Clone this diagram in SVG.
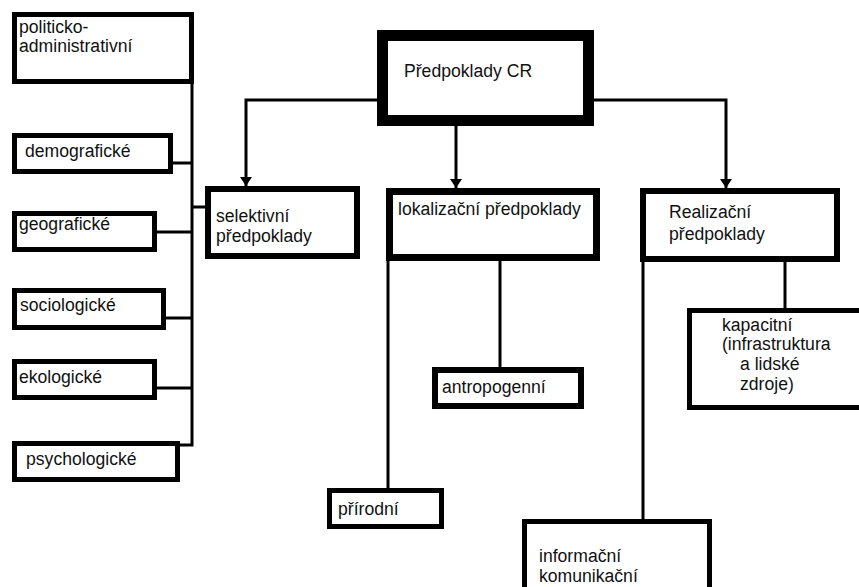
<svg xmlns="http://www.w3.org/2000/svg" width="859" height="587" viewBox="0 0 859 587">
<style>
.box{fill:#fff;stroke:#000}
.t{font-family:"Liberation Sans",Arial,sans-serif;font-size:17.6px;fill:#111}
.c{fill:none;stroke:#000;stroke-width:3}
</style>
<defs>
<marker id="arr" markerUnits="userSpaceOnUse" markerWidth="9" markerHeight="12" refX="9" refY="6" orient="auto">
<path d="M0,0 L9,6 L0,12 z" fill="#000"/>
</marker>
</defs>
<rect width="859" height="587" fill="#fff"/>
<g id="connectors">
<path class="c" d="M192,84 V445 H180"/>
<path class="c" d="M173,163 H192"/>
<path class="c" d="M157,232 H192"/>
<path class="c" d="M166,318 H192"/>
<path class="c" d="M157,388 H192"/>
<path class="c" d="M192,207 H205"/>
<path class="c" d="M377,100 H246 V186" marker-end="url(#arr)"/>
<path class="c" d="M456,126 V188" marker-end="url(#arr)"/>
<path class="c" d="M594,100 H726 V188" marker-end="url(#arr)"/>
<path class="c" d="M388,261 V488"/>
<path class="c" d="M500,261 V367"/>
<path class="c" d="M785,262 V308"/>
<path class="c" d="M643,262 V519"/>
</g>
<g id="politicko">
<rect class="box" x="14.5" y="14.5" width="177" height="67" stroke-width="5"/>
<text class="t" x="19" y="33">politicko-</text>
<text class="t" x="19" y="52">administrativní</text>
</g>
<g id="demograficke">
<rect class="box" x="14.5" y="135.5" width="156" height="36" stroke-width="5"/>
<text class="t" x="25" y="157">demografické</text>
</g>
<g id="geograficke">
<rect class="box" x="14.5" y="213.5" width="140" height="36" stroke-width="5"/>
<text class="t" x="19" y="230">geografické</text>
</g>
<g id="sociologicke">
<rect class="box" x="14.5" y="290.5" width="149" height="37" stroke-width="5"/>
<text class="t" x="20" y="311">sociologické</text>
</g>
<g id="ekologicke">
<rect class="box" x="14.5" y="361.5" width="140" height="36" stroke-width="5"/>
<text class="t" x="19" y="383">ekologické</text>
</g>
<g id="psychologicke">
<rect class="box" x="14.5" y="443.5" width="163" height="36" stroke-width="5"/>
<text class="t" x="26" y="465">psychologické</text>
</g>
<g id="selektivni">
<rect class="box" x="208" y="189" width="149" height="67" stroke-width="6"/>
<text class="t" x="216" y="222">selektivní</text>
<text class="t" x="216" y="242">předpoklady</text>
</g>
<g id="predpoklady-cr">
<rect class="box" x="382.5" y="35.5" width="206" height="85" stroke-width="11"/>
<text class="t" x="404" y="77">Předpoklady CR</text>
</g>
<g id="lokalizacni">
<rect class="box" x="389.5" y="191.5" width="207" height="66" stroke-width="7"/>
<text class="t" x="398" y="215">lokalizační předpoklady</text>
</g>
<g id="realizacni">
<rect class="box" x="643" y="191" width="194" height="68" stroke-width="6"/>
<text class="t" x="669" y="218">Realizační</text>
<text class="t" x="669" y="240">předpoklady</text>
</g>
<g id="kapacitni">
<rect class="box" x="689.5" y="310.5" width="180" height="97" stroke-width="5"/>
<text class="t" x="722" y="331">kapacitní</text>
<text class="t" x="722" y="350">(infrastruktura</text>
<text class="t" x="740" y="370">a lidské</text>
<text class="t" x="740" y="390">zdroje)</text>
</g>
<g id="antropogenni">
<rect class="box" x="435" y="370" width="146" height="36" stroke-width="6"/>
<text class="t" x="442" y="393">antropogenní</text>
</g>
<g id="prirodni">
<rect class="box" x="329.5" y="490.5" width="112" height="36" stroke-width="5"/>
<text class="t" x="338" y="515">přírodní</text>
</g>
<g id="informacni">
<rect class="box" x="524.5" y="521.5" width="185" height="100" stroke-width="5"/>
<text class="t" x="539" y="562">informační</text>
<text class="t" x="539" y="582">komunikační</text>
</g>
</svg>
